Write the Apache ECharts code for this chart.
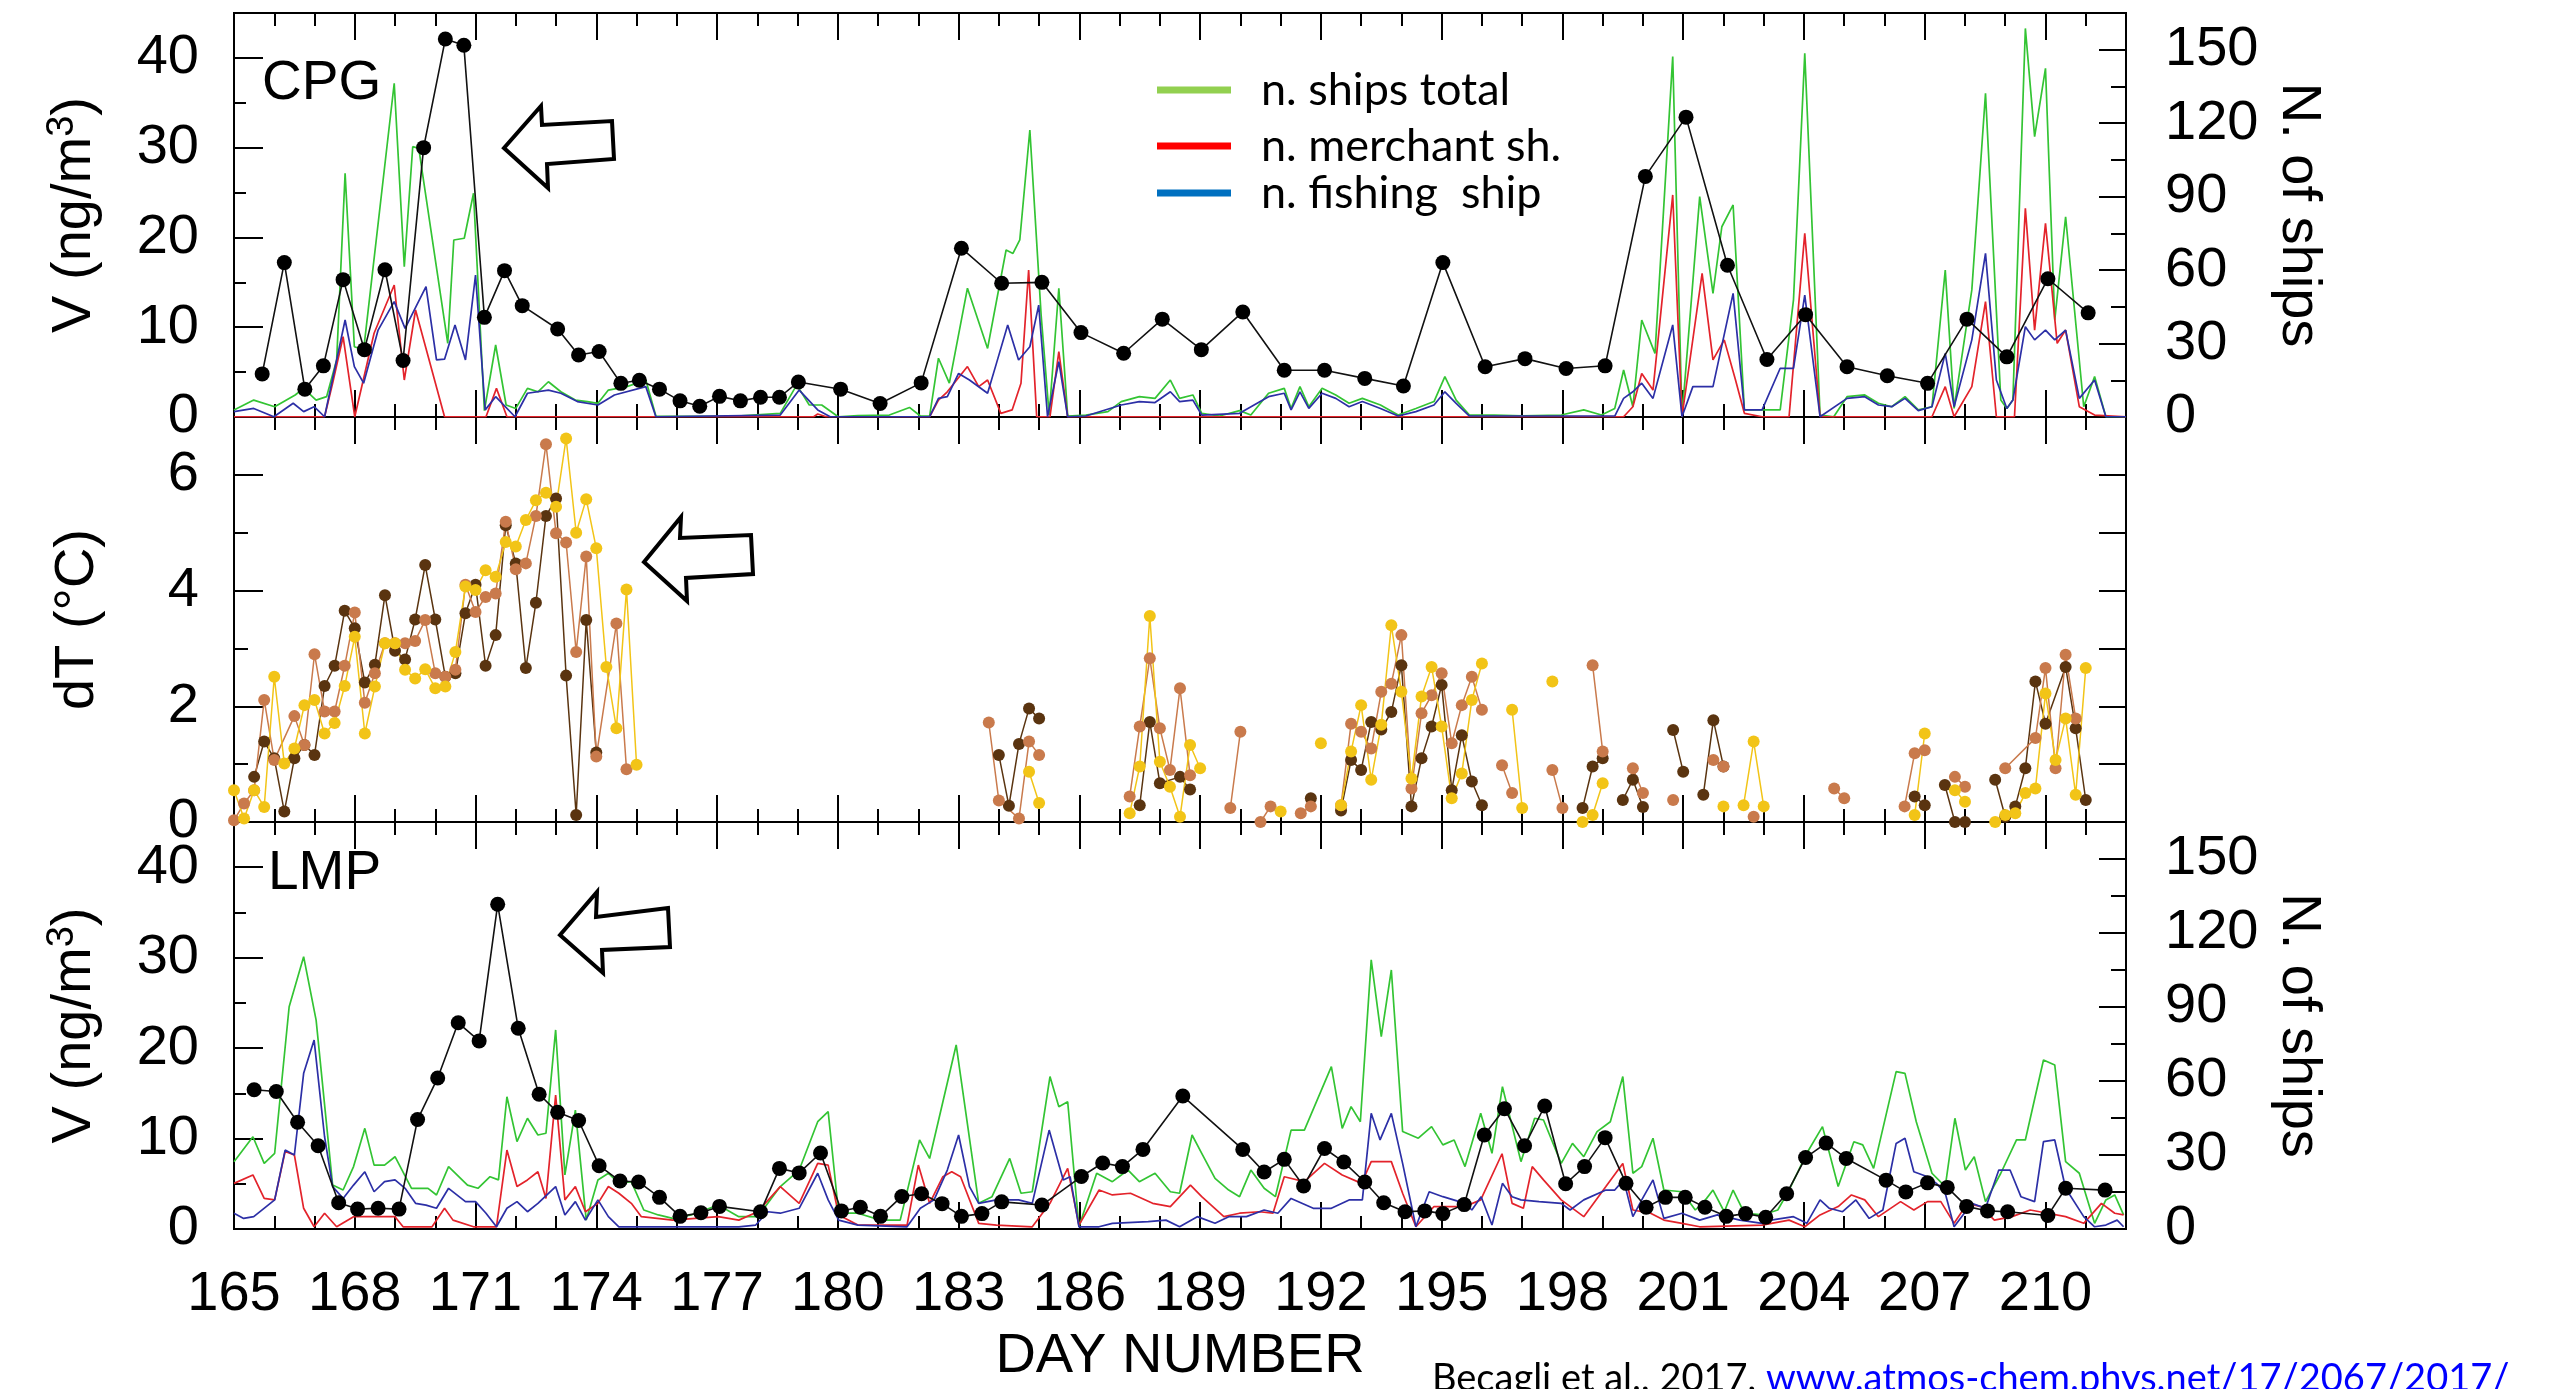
<!DOCTYPE html>
<html>
<head>
<meta charset="utf-8">
<style>
  html, body { margin: 0; padding: 0; background: #fff; }
  #chart { width: 2552px; height: 1389px; }
</style>
<script src="https://cdn.jsdelivr.net/npm/echarts@6/dist/echarts.min.js"></script>
</head>
<body>
<div id="chart"></div>
<script>
// ---- data: [day, value] ----
var vCPG = [[165.7,4.8],[166.25,17.2],[166.76,3.1],[167.22,5.7],[167.71,15.3],[168.24,7.5],[168.75,16.4],[169.2,6.3],[169.71,30.0],[170.25,42.1],[170.71,41.4],[171.22,11.1],[171.72,16.3],[172.16,12.4],[173.04,9.8],[173.56,6.9],[174.07,7.3],[174.61,3.75],[175.07,4.1],[175.57,3.1],[176.08,1.8],[176.57,1.2],[177.06,2.3],[177.58,1.8],[178.08,2.2],[178.55,2.2],[179.02,3.9],[180.07,3.1],[181.05,1.5],[182.07,3.8],[183.07,18.8],[184.07,14.9],[185.07,15.0],[186.04,9.4],[187.1,7.1],[188.06,10.9],[189.03,7.5],[190.06,11.7],[191.09,5.2],[192.09,5.2],[193.09,4.3],[194.05,3.45],[195.03,17.2],[196.08,5.6],[197.07,6.5],[198.09,5.4],[199.06,5.7],[200.06,26.8],[201.07,33.4],[202.1,16.9],[203.08,6.4],[204.04,11.4],[205.07,5.6],[206.07,4.6],[207.07,3.75],[208.05,10.9],[209.04,6.7],[210.06,15.4],[211.06,11.6]];

var shipsTotalCPG = [[165.0,2.9],[165.49,6.9],[166.01,4.2],[166.52,9.0],[166.73,11.7],[167.04,6.9],[167.3,8.3],[167.55,23.3],[167.76,99.5],[167.99,28.7],[168.22,27.4],[168.98,136.3],[169.23,61.4],[169.44,110.4],[169.59,109.7],[170.31,30.1],[170.46,72.3],[170.72,73.0],[170.95,91.4],[171.22,2.6],[171.5,29.4],[171.76,4.9],[172.0,3.5],[172.29,11.7],[172.55,10.3],[172.81,14.4],[173.12,10.3],[173.48,6.9],[173.78,6.3],[174.04,5.6],[174.3,11.0],[174.76,12.4],[175.23,15.1],[175.48,0.4],[176.5,0.3],[177.5,0.4],[178.57,1.5],[178.98,13.1],[179.29,4.9],[179.6,4.9],[180.01,0.1],[180.5,0.6],[181.28,0.8],[181.78,3.9],[182.05,0.4],[182.28,0.4],[182.5,24.0],[182.77,13.8],[183.22,52.6],[183.72,28.0],[184.18,68.2],[184.35,66.8],[184.52,72.3],[184.77,117.2],[185.05,41.7],[185.25,0.8],[185.49,52.6],[185.71,0.4],[186.16,0.8],[186.71,2.2],[187.04,6.3],[187.49,8.3],[187.88,7.6],[188.26,15.1],[188.49,7.6],[188.82,9.0],[189.04,1.5],[189.48,0.4],[189.98,2.6],[190.26,0.8],[190.7,9.7],[191.09,11.7],[191.26,3.5],[191.48,12.4],[191.7,4.2],[192.03,11.7],[192.37,9.0],[192.7,5.6],[193.03,7.6],[193.48,4.9],[193.92,0.8],[194.36,3.5],[194.81,6.3],[195.08,16.5],[195.36,6.9],[195.69,0.8],[196.31,0.8],[197.0,0.5],[197.97,0.8],[198.53,2.9],[198.97,0.8],[199.3,3.5],[199.52,19.2],[199.75,4.2],[199.97,39.6],[200.3,26.0],[200.74,147.2],[200.97,0.1],[201.41,90.0],[201.74,50.5],[201.96,77.7],[202.24,86.6],[202.52,2.9],[202.85,2.9],[203.41,2.9],[203.74,47.8],[204.02,148.5],[204.4,0.8],[204.74,0.1],[205.07,8.3],[205.51,9.0],[205.85,5.6],[206.18,4.2],[206.51,8.3],[206.84,2.9],[207.18,4.2],[207.51,60.0],[207.73,3.5],[208.17,51.9],[208.51,132.2],[208.89,6.9],[209.04,3.5],[209.19,6.9],[209.5,158.7],[209.73,114.5],[210.0,142.4],[210.23,39.6],[210.5,81.8],[210.95,4.2],[211.22,16.5],[211.5,0.1],[212.0,0.1]];

var shipsMerchCPG = [[165.0,0.1],[167.25,0.1],[167.45,13.8],[167.71,32.8],[168.0,0.1],[168.48,34.2],[168.98,53.9],[169.23,15.1],[169.51,43.7],[170.23,0.1],[171.26,0.1],[171.52,11.7],[171.78,0.1],[179.4,0.1],[179.5,1.2],[179.71,0.1],[182.28,0.1],[182.5,6.9],[182.72,10.3],[183.22,20.6],[183.5,12.4],[183.72,15.1],[184.05,1.5],[184.33,2.9],[184.55,13.8],[184.74,60.0],[184.94,0.1],[185.27,0.1],[185.49,26.7],[185.71,0.1],[199.52,0.1],[199.75,4.2],[199.97,17.8],[200.25,11.0],[200.74,90.7],[200.97,0.1],[201.47,58.7],[201.74,23.3],[202.02,31.5],[202.3,15.1],[202.52,1.5],[202.96,0.1],[203.63,0.1],[204.02,75.0],[204.4,0.1],[207.18,0.1],[207.51,12.4],[207.73,0.1],[208.17,12.4],[208.51,47.1],[208.78,0.1],[209.23,0.1],[209.5,85.2],[209.73,35.5],[210.0,79.1],[210.29,30.1],[210.5,35.5],[210.84,4.2],[211.22,0.8],[212.0,0.1]];

var shipsFishCPG = [[165.0,2.2],[165.49,3.5],[165.99,0.1],[166.47,5.6],[166.73,2.2],[166.99,4.2],[167.25,0.1],[167.76,39.6],[167.99,20.6],[168.22,13.8],[168.58,35.5],[168.98,47.1],[169.25,36.2],[169.77,53.2],[170.03,23.3],[170.23,23.6],[170.49,37.6],[170.75,23.3],[171.0,58.0],[171.24,2.9],[171.5,8.3],[171.98,0.1],[172.29,9.7],[172.81,11.0],[173.12,9.7],[173.53,6.3],[174.04,4.9],[174.45,9.0],[175.23,12.4],[175.48,0.1],[178.57,0.8],[179.04,11.0],[179.5,2.9],[179.81,0.1],[182.28,0.1],[182.5,7.6],[182.72,8.3],[183.0,17.8],[183.27,15.1],[183.72,9.7],[183.94,21.9],[184.22,37.6],[184.49,23.3],[184.77,28.7],[184.99,45.7],[185.21,0.1],[185.49,22.6],[185.71,0.1],[186.16,0.4],[187.04,4.9],[187.49,6.3],[187.88,5.9],[188.26,10.3],[188.49,6.3],[188.82,6.9],[189.04,0.8],[189.98,1.5],[190.7,8.3],[191.09,9.7],[191.26,2.9],[191.48,10.3],[191.7,3.5],[192.03,9.7],[192.37,7.6],[192.7,4.2],[193.03,6.3],[193.48,3.5],[193.92,0.4],[194.36,2.2],[194.81,4.9],[195.08,10.3],[195.36,5.6],[195.69,0.4],[199.3,0.4],[199.52,7.6],[199.75,10.3],[199.97,13.8],[200.25,7.6],[200.74,37.6],[200.97,0.1],[201.24,12.4],[201.74,12.4],[202.24,50.5],[202.52,2.9],[202.96,2.9],[203.41,19.9],[203.74,19.9],[204.02,49.8],[204.4,0.1],[205.07,7.6],[205.51,8.3],[205.85,4.9],[206.18,4.2],[206.51,7.6],[206.84,2.6],[207.18,4.2],[207.51,26.0],[207.73,4.2],[208.17,31.5],[208.51,66.8],[208.78,15.1],[209.04,3.5],[209.19,6.9],[209.5,36.9],[209.73,31.5],[210.0,35.5],[210.23,31.5],[210.5,35.5],[210.84,7.6],[211.22,15.1],[211.5,0.1],[212.0,0.1]];

// dT: runs of consecutive samples, gaps between runs
var dtDark = [
  [[165.5,0.78],[165.75,1.39],[166.0,1.10],[166.25,0.18],[166.5,1.10],[166.75,1.33],[167.0,1.16],[167.25,2.35],[167.5,2.70],[167.75,3.65],[168.0,3.35],[168.25,2.41],[168.5,2.72],[168.75,3.92],[169.0,2.96],[169.25,2.81],[169.5,3.50],[169.75,4.44],[170.0,3.50],[170.25,2.51],[170.5,2.57],[170.75,3.61],[171.0,4.10],[171.25,2.70],[171.5,3.23],[171.75,5.13],[172.0,4.47],[172.25,2.66],[172.5,3.79],[172.75,5.29],[173.0,5.59],[173.25,2.53],[173.5,0.12],[173.75,3.49],[174.0,1.20]],
  [[184.0,1.16],[184.25,0.28],[184.5,1.35],[184.75,1.96],[185.0,1.79]],
  [[187.5,0.29],[187.75,1.73],[188.0,0.67],[188.5,0.78],[188.75,0.56]],
  [[191.75,0.41]],
  [[192.5,0.2],[192.75,1.07],[193.0,0.9],[193.25,1.73],[193.5,1.6],[193.75,1.9],[194.0,2.71],[194.25,0.27],[194.5,1.1],[194.75,1.65],[195.0,2.37],[195.25,0.55],[195.5,1.5],[195.75,0.7],[196.0,0.29]],
  [[198.5,0.24],[198.75,0.96],[199.0,1.1]],
  [[199.5,0.38],[199.75,0.73],[200.0,0.26]],
  [[200.75,1.59],[201.0,0.87]],
  [[201.5,0.47],[201.75,1.76],[202.0,0.96]],
  [[206.75,0.44],[207.0,0.29]],
  [[207.5,0.64],[207.75,0.0],[208.0,0.0]],
  [[208.75,0.73],[209.0,0.09],[209.25,0.27],[209.5,0.93],[209.75,2.43],[210.0,1.7],[210.5,2.68],[210.75,1.62],[211.0,0.38]]
];
var dtOrange = [
  [[165.0,0.03],[165.25,0.32],[165.5,0.55],[165.75,2.11],[166.0,1.07],[166.5,1.83],[166.75,1.33],[167.0,2.90],[167.25,1.91],[167.5,1.91],[167.75,2.70],[168.0,3.62],[168.25,2.06],[168.5,2.57],[168.75,3.09],[169.0,3.09],[169.25,3.09],[169.5,3.13],[169.75,3.49],[170.0,2.57],[170.25,2.51],[170.5,2.63],[170.75,4.10],[171.0,3.63],[171.25,3.89],[171.5,3.95],[171.75,5.19],[172.0,4.37],[172.25,4.47],[172.5,5.29],[172.75,6.53],[173.0,4.99],[173.25,4.83],[173.5,2.94],[173.75,4.59],[174.0,1.13],[174.5,3.43],[174.75,0.91]],
  [[183.75,1.72],[184.0,0.37],[184.5,0.06],[184.75,1.39],[185.0,1.16]],
  [[187.25,0.44],[187.5,1.65],[187.75,2.83],[188.0,1.62],[188.25,0.9],[188.5,2.31],[188.75,0.81]],
  [[189.75,0.24],[190.0,1.56]],
  [[190.5,0.0],[190.75,0.27]],
  [[191.5,0.15],[191.75,0.27]],
  [[192.5,0.29],[192.75,1.7],[193.0,1.56],[193.25,1.27],[193.5,2.25],[193.75,2.39],[194.0,3.23],[194.25,0.58],[194.5,1.88],[194.75,2.19],[195.0,2.57],[195.25,1.36],[195.5,2.02],[195.75,2.51],[196.0,1.94]],
  [[196.5,0.98],[196.75,0.5]],
  [[197.75,0.9],[198.0,0.24]],
  [[198.75,2.71],[199.0,1.22]],
  [[199.75,0.93],[200.0,0.5]],
  [[200.75,0.38]],
  [[201.75,1.07],[202.0,0.96]],
  [[202.75,0.09]],
  [[204.75,0.58],[205.0,0.41]],
  [[206.5,0.27],[206.75,1.19],[207.0,1.24]],
  [[207.75,0.78],[208.0,0.61]],
  [[209.0,0.93],[209.75,1.45],[210.0,2.66],[210.25,0.93],[210.5,2.89],[210.75,1.79]]
];
var dtYellow = [
  [[165.0,0.55],[165.25,0.06],[165.5,0.55],[165.75,0.26],[166.0,2.51],[166.25,1.01],[166.5,1.27],[166.75,2.02],[167.0,2.11],[167.25,1.53],[167.5,1.71],[167.75,2.35],[168.0,3.20],[168.25,1.53],[168.5,2.34],[168.75,3.09],[169.0,3.09],[169.25,2.63],[169.5,2.48],[169.75,2.64],[170.0,2.31],[170.25,2.34],[170.5,2.94],[170.75,4.07],[171.0,4.01],[171.25,4.35],[171.5,4.24],[171.75,4.84],[172.0,4.76],[172.25,5.22],[172.5,5.56],[172.75,5.69],[173.0,5.45],[173.25,6.63],[173.5,5.0],[173.75,5.58],[174.0,4.73],[174.25,2.68],[174.5,1.62],[174.75,4.02],[175.0,0.99]],
  [[184.75,0.87],[185.0,0.33]],
  [[187.25,0.15],[187.5,0.96],[187.75,3.56],[188.0,1.04],[188.25,0.61],[188.5,0.09],[188.75,1.33],[189.0,0.93]],
  [[191.0,0.18]],
  [[192.0,1.36]],
  [[192.5,0.29],[192.75,1.22],[193.0,2.02],[193.25,0.73],[193.5,1.68],[193.75,3.4],[194.0,2.25],[194.25,0.75],[194.5,2.17],[194.75,2.68],[195.0,1.65],[195.25,0.41],[195.5,0.84],[195.75,2.11],[196.0,2.74]],
  [[196.75,1.94],[197.0,0.24]],
  [[197.75,2.43]],
  [[198.5,0.0],[198.75,0.12],[199.0,0.67]],
  [[202.0,0.27]],
  [[202.5,0.29],[202.75,1.39],[203.0,0.27]],
  [[206.75,0.12],[207.0,1.53]],
  [[207.75,0.55],[208.0,0.35]],
  [[208.75,0.0],[209.0,0.12],[209.25,0.15],[209.5,0.5],[209.75,0.58],[210.0,2.22],[210.25,1.07],[210.5,1.79],[210.75,0.47],[211.0,2.66]]
];

var vLMP = [[165.5,15.4],[166.05,15.2],[166.58,11.8],[167.09,9.2],[167.6,2.9],[168.07,2.2],[168.58,2.3],[169.1,2.2],[169.56,12.1],[170.06,16.7],[170.57,22.8],[171.09,20.8],[171.55,35.9],[172.06,22.2],[172.58,14.9],[173.04,12.9],[173.56,12.0],[174.07,7.0],[174.59,5.3],[175.05,5.2],[175.57,3.5],[176.08,1.4],[176.6,1.8],[177.06,2.5],[178.08,1.9],[178.55,6.7],[179.04,6.2],[179.57,8.4],[180.09,2.0],[180.56,2.4],[181.06,1.4],[181.59,3.6],[182.08,3.9],[182.59,2.8],[183.07,1.4],[183.58,1.7],[184.07,3.0],[185.07,2.65],[186.05,5.8],[186.58,7.3],[187.07,6.9],[187.58,8.8],[188.57,14.7],[190.06,8.8],[190.59,6.3],[191.09,7.7],[191.57,4.75],[192.09,8.9],[192.57,7.4],[193.09,5.2],[193.56,2.9],[194.09,1.9],[194.58,2.0],[195.03,1.7],[195.56,2.7],[196.06,10.4],[196.56,13.3],[197.06,9.2],[197.56,13.6],[198.08,5.0],[198.55,6.9],[199.06,10.1],[199.58,5.05],[200.08,2.4],[200.56,3.5],[201.05,3.5],[201.54,2.4],[202.07,1.4],[202.55,1.7],[203.05,1.3],[203.57,3.9],[204.04,7.9],[204.55,9.5],[205.05,7.8],[206.04,5.4],[206.53,4.1],[207.07,5.1],[207.56,4.6],[208.04,2.5],[208.56,2.0],[209.06,1.9],[210.06,1.5],[210.5,4.5],[211.48,4.3]];

var shipsTotalLMP = [[165.0,27.3],[165.47,37.4],[165.75,26.6],[166.01,30.7],[166.37,90.1],[166.73,110.4],[167.04,84.7],[167.45,17.8],[167.71,15.8],[167.97,25.3],[168.25,40.8],[168.48,25.9],[168.74,25.9],[169.0,29.3],[169.41,16.5],[169.82,16.5],[170.03,13.8],[170.33,25.3],[170.8,17.8],[171.06,16.5],[171.36,21.2],[171.57,19.9],[171.78,53.6],[172.03,35.4],[172.29,44.9],[172.55,38.1],[172.75,38.8],[172.99,80.7],[173.22,21.9],[173.48,48.2],[173.75,3.6],[174.04,19.9],[174.3,22.6],[174.56,18.5],[174.87,19.2],[175.18,7.7],[175.54,5.7],[175.9,4.3],[176.36,5.7],[177.03,9.7],[177.54,5.0],[178.01,5.0],[178.57,17.2],[179.04,23.9],[179.5,43.5],[179.76,47.6],[180.02,6.4],[180.5,6.4],[181.06,3.6],[181.55,3.6],[182.03,36.1],[182.28,28.6],[182.94,74.6],[183.5,10.4],[183.83,13.1],[184.27,28.6],[184.55,14.5],[184.83,15.1],[185.27,61.8],[185.49,49.6],[185.71,51.6],[185.99,0.9],[186.43,22.6],[186.82,19.2],[187.21,23.9],[187.49,19.2],[187.88,22.6],[188.26,15.1],[188.49,14.5],[188.8,38.1],[189.04,30.7],[189.37,20.5],[189.71,15.8],[189.98,13.1],[190.26,23.9],[190.59,16.5],[190.87,13.1],[191.26,40.1],[191.59,40.1],[192.26,65.8],[192.53,40.8],[192.75,49.6],[192.98,43.5],[193.25,109.1],[193.5,78.0],[193.75,105.0],[194.03,39.5],[194.42,36.8],[194.75,41.5],[195.03,34.1],[195.31,36.1],[195.58,25.3],[195.97,46.9],[196.25,30.7],[196.51,57.7],[196.97,27.3],[197.31,44.9],[197.53,44.2],[197.97,26.6],[198.25,34.7],[198.53,29.3],[198.86,39.5],[199.19,43.5],[199.5,61.8],[199.75,22.6],[199.97,25.3],[200.25,36.8],[200.52,15.8],[200.97,15.1],[201.3,7.7],[201.52,11.1],[201.74,15.8],[202.02,7.0],[202.24,15.8],[202.52,6.4],[202.96,5.7],[203.35,7.7],[203.63,15.8],[204.07,30.7],[204.46,41.5],[204.85,17.2],[205.24,35.4],[205.46,34.1],[205.73,24.6],[206.29,63.8],[206.51,63.1],[206.79,43.5],[207.18,22.6],[207.51,17.2],[207.75,44.9],[208.01,23.9],[208.23,29.3],[208.51,11.1],[208.89,22.6],[209.28,36.1],[209.5,36.1],[209.95,68.5],[210.23,66.5],[210.5,27.3],[210.84,22.6],[211.22,2.3],[211.5,11.8],[211.72,13.8],[211.94,5.7]];

var shipsMerchLMP = [[165.0,18.5],[165.47,21.9],[165.75,12.4],[166.01,11.8],[166.27,31.4],[166.5,30.0],[166.73,8.4],[166.99,0.9],[167.25,6.4],[167.55,0.9],[167.97,5.0],[169.0,5.0],[169.2,0.9],[169.92,0.9],[170.23,8.4],[170.44,3.6],[170.95,0.9],[171.52,0.9],[171.78,32.0],[172.03,17.2],[172.29,19.9],[172.55,23.2],[172.75,12.4],[172.99,54.3],[173.22,11.8],[173.48,17.2],[173.73,7.0],[174.04,10.4],[174.3,17.2],[174.56,14.5],[174.87,10.4],[175.12,5.0],[175.9,3.6],[177.03,5.0],[177.54,3.6],[178.01,7.0],[178.57,17.2],[179.04,10.4],[179.5,26.6],[179.76,25.9],[180.02,5.7],[180.5,1.6],[181.72,1.6],[182.0,25.9],[182.28,10.4],[182.61,21.2],[182.83,23.2],[183.05,21.2],[183.5,2.3],[183.94,1.6],[184.83,0.9],[185.27,10.4],[185.71,24.6],[185.99,1.6],[186.49,15.8],[186.82,13.8],[187.27,14.5],[187.82,10.4],[188.26,9.1],[188.76,17.8],[189.04,13.1],[189.59,5.0],[189.98,6.4],[190.48,7.0],[190.81,6.4],[191.09,21.2],[191.59,19.2],[192.09,26.6],[192.53,21.9],[193.01,18.5],[193.25,27.3],[193.75,27.3],[194.03,14.5],[194.36,0.9],[194.81,9.1],[195.58,9.1],[195.97,11.8],[196.5,30.5],[196.75,10.4],[197.03,8.4],[197.25,25.3],[197.53,19.9],[197.97,11.8],[198.53,5.0],[199.08,17.2],[199.5,26.6],[199.75,7.7],[200.19,6.4],[200.52,3.6],[200.97,2.3],[201.41,0.9],[202.96,1.6],[203.63,3.6],[204.02,0.9],[204.4,5.7],[204.85,9.1],[205.18,13.8],[205.51,11.8],[205.85,5.0],[206.4,11.1],[206.73,7.7],[207.07,11.1],[207.4,11.1],[207.73,2.3],[208.06,10.4],[208.4,9.1],[208.73,3.6],[209.17,5.0],[209.62,7.7],[210.06,6.4],[210.5,5.0],[210.95,2.3],[211.39,10.4],[211.72,6.4],[211.94,5.7]];

var shipsFishLMP = [[165.0,6.4],[165.24,4.3],[165.49,5.0],[166.01,11.8],[166.27,32.0],[166.5,30.0],[166.73,63.1],[166.99,76.6],[167.25,37.4],[167.45,17.2],[167.71,12.4],[167.97,17.8],[168.25,23.2],[168.48,15.1],[168.74,19.2],[169.0,19.9],[169.25,16.5],[169.51,10.4],[169.77,9.7],[170.03,8.4],[170.33,16.5],[170.75,11.1],[171.0,11.1],[171.26,6.4],[171.52,0.9],[171.78,8.4],[172.03,11.1],[172.29,7.0],[172.55,10.4],[172.99,17.2],[173.22,5.7],[173.48,11.1],[173.73,3.6],[174.04,11.8],[174.3,5.0],[174.56,0.9],[177.54,0.9],[177.96,1.6],[178.26,7.0],[178.57,6.4],[179.04,8.4],[179.5,22.6],[179.76,11.8],[180.02,3.6],[180.5,1.6],[181.72,0.9],[182.05,8.4],[182.39,11.8],[182.72,23.9],[183.0,38.1],[183.27,17.2],[183.5,10.4],[183.94,11.8],[184.49,11.8],[184.83,10.4],[185.25,40.1],[185.6,19.9],[185.77,21.2],[185.99,0.9],[186.49,0.9],[186.82,2.3],[187.71,3.0],[188.15,3.6],[188.49,0.9],[188.93,5.0],[189.37,2.3],[189.71,5.0],[190.15,5.0],[190.59,7.7],[190.93,6.4],[191.26,12.4],[191.81,8.4],[192.26,8.4],[192.7,11.8],[193.03,11.8],[193.25,46.9],[193.47,36.1],[193.75,46.9],[194.03,26.6],[194.36,0.9],[194.69,15.1],[195.03,13.1],[195.58,10.4],[195.75,7.7],[195.98,13.1],[196.25,1.6],[196.51,18.5],[196.75,13.1],[196.97,11.8],[197.42,11.1],[197.97,10.4],[198.19,7.7],[198.53,11.8],[199.08,15.8],[199.3,15.8],[199.52,19.9],[199.75,5.0],[199.97,11.8],[200.25,19.9],[200.52,4.3],[200.97,6.4],[201.41,3.6],[201.85,5.7],[202.41,3.6],[202.96,2.3],[203.18,3.6],[203.74,5.0],[204.07,2.3],[204.4,11.8],[204.63,8.4],[204.96,7.0],[205.29,11.8],[205.62,4.3],[205.96,7.7],[206.29,34.7],[206.51,36.8],[206.73,23.2],[207.07,21.2],[207.29,18.5],[207.51,14.5],[207.73,0.9],[208.17,10.4],[208.51,8.4],[208.84,23.9],[209.12,23.9],[209.39,13.1],[209.73,11.1],[209.95,35.4],[210.23,36.1],[210.5,16.5],[210.95,5.0],[211.22,0.9],[211.5,1.6],[211.78,3.6],[211.94,0.9]];

var dayRange = [165, 212];
var vTicks = [0, 10, 20, 30, 40];
var shipTicks = [0, 30, 60, 90, 120, 150];
var dtTicks = [0, 2, 4, 6];

// ---- helpers ----
var FONT = 'Liberation Sans';
var BLACK = '#000';

function runs(list) {
  var out = [];
  list.forEach(function (r, i) {
    if (i > 0) out.push(['-', '-']);
    r.forEach(function (p) { out.push(p); });
  });
  return out;
}

function xAx(grid, pos, major, labels) {
  return {
    type: 'value', gridIndex: grid, position: pos,
    min: dayRange[0], max: dayRange[1], interval: major ? 3 : 1,
    axisLine: { show: true, onZero: false, lineStyle: { color: BLACK, width: 2 } },
    axisTick: { show: true, inside: true, length: major ? 27 : 13, lineStyle: { color: BLACK, width: 2 } },
    axisLabel: {
      show: !!labels, margin: 38, color: BLACK, fontSize: 56, fontFamily: FONT,
      formatter: function (v) { return (v - 165) % 3 === 0 ? String(v) : ''; }
    },
    splitLine: { show: false }
  };
}

function yAx(grid, pos, min, max, interval, tickLen, shown) {
  return {
    type: 'value', gridIndex: grid, position: pos,
    min: min, max: max, interval: interval,
    axisLine: { show: true, onZero: false, lineStyle: { color: BLACK, width: 2 } },
    axisTick: { show: true, inside: true, length: tickLen, lineStyle: { color: BLACK, width: 2 } },
    axisLabel: {
      show: !!shown, margin: pos === 'left' ? 35 : 39, color: BLACK, fontSize: 56, fontFamily: FONT,
      formatter: function (v) { return shown && shown.indexOf(v) >= 0 ? String(v) : ''; }
    },
    splitLine: { show: false }
  };
}

var vName = {
  name: '{a|V (ng/m}{s|3}{a|)}', nameLocation: 'middle', nameGap: 128, nameRotate: 90,
  nameTextStyle: { rich: {
    a: { fontSize: 56, fontFamily: FONT, color: BLACK },
    s: { fontSize: 38, fontFamily: FONT, color: BLACK, padding: [0, 0, 24, 0] }
  } }
};
var shipName = {
  name: 'N. of ships', nameLocation: 'middle', nameGap: 144, nameRotate: -90,
  nameTextStyle: { fontSize: 56, fontFamily: FONT, color: BLACK }
};

var xAxes = [];
[0, 1, 2].forEach(function (g) {
  xAxes.push(xAx(g, 'bottom', true, g === 2));
  xAxes.push(xAx(g, 'bottom', false));
  xAxes.push(xAx(g, 'top', true));
  xAxes.push(xAx(g, 'top', false));
});
xAxes[8].name = 'DAY NUMBER';
xAxes[8].nameLocation = 'middle';
xAxes[8].nameGap = 100;
xAxes[8].nameTextStyle = { fontSize: 56, fontFamily: FONT, color: BLACK };

var yAxes = [
  Object.assign(yAx(0, 'left', 0, 45, 10, 29, vTicks), vName),      // 0
  yAx(0, 'left', 0, 45, 5, 12),                                     // 1
  Object.assign(yAx(0, 'right', 0, 165, 30, 27, shipTicks), shipName), // 2
  yAx(0, 'right', 0, 165, 15, 15),                                  // 3
  Object.assign(yAx(1, 'left', 0, 7, 2, 29, dtTicks), {             // 4
    name: 'dT (°C)', nameLocation: 'middle', nameGap: 128, nameRotate: 90,
    nameTextStyle: { fontSize: 56, fontFamily: FONT, color: BLACK }
  }),
  yAx(1, 'left', 0, 7, 1, 14),                                      // 5
  yAx(1, 'right', 0, 7, 1, 27),                                     // 6
  Object.assign(yAx(2, 'left', 0, 45, 10, 29, vTicks), vName),      // 7
  yAx(2, 'left', 0, 45, 5, 12),                                     // 8
  Object.assign(yAx(2, 'right', 0, 165, 30, 27, shipTicks), shipName), // 9
  yAx(2, 'right', 0, 165, 15, 15)                                   // 10
];

var GREEN = '#33c433', RED = '#e3232b', BLUE = '#2c2fa6';

function shipLine(data, color, xi, yi) {
  return { type: 'line', data: data, xAxisIndex: xi, yAxisIndex: yi, symbol: 'none',
    lineStyle: { color: color, width: 1.7 }, itemStyle: { color: color }, z: 2, silent: true };
}
function vLine(data, xi, yi) {
  return { type: 'line', data: data, xAxisIndex: xi, yAxisIndex: yi,
    symbol: 'circle', symbolSize: 15, showAllSymbol: true,
    lineStyle: { color: '#111', width: 1.6 }, itemStyle: { color: '#000' }, z: 5 };
}
function dtLine(list, color) {
  return { type: 'line', data: runs(list), xAxisIndex: 4, yAxisIndex: 4,
    symbol: 'circle', symbolSize: 12, showAllSymbol: true, connectNulls: false,
    lineStyle: { color: color, width: 1.5 }, itemStyle: { color: color }, z: 3 };
}

function arrow(pts) {
  return { type: 'polygon', shape: { points: pts }, z: 100,
    style: { fill: '#fff', stroke: '#000', lineWidth: 4, lineJoin: 'miter' } };
}

var legendItems = [
  ['n. ships total', '#92d050', 90],
  ['n. merchant sh.', '#ff0000', 146],
  ['n. fishing  ship', '#0070c0', 193]
];
var graphics = [
  arrow([[504,148],[541,106],[542,125],[612,121],[614,159],[547,164],[548,188]]),
  arrow([[644,562],[681,517],[680,538],[751,535],[753,574],[686,578],[687,601]]),
  arrow([[560,935],[597,892],[596,917],[668,908],[670,947],[602,950],[603,973]]),
  { type: 'text', left: 262, top: 56, z: 100, style: { text: 'CPG', fontSize: 55, fontFamily: FONT, fill: BLACK } },
  { type: 'text', left: 268, top: 846, z: 100, style: { text: 'LMP', fontSize: 55, fontFamily: FONT, fill: BLACK } },
  { type: 'text', left: 1432, top: 1360, z: 100, style: {
    text: '{a|Becagli et al., 2017, }{b|www.atmos-chem.phys.net/17/2067/2017/}',
    rich: { a: { fontSize: 38, fontFamily: 'Lato', fill: BLACK }, b: { fontSize: 38, fontFamily: 'Lato', fill: '#0000ff' } }
  } }
];
legendItems.forEach(function (it) {
  graphics.push({ type: 'rect', z: 100, shape: { x: 1157, y: it[2] - 3.5, width: 74, height: 7 }, style: { fill: it[1] } });
  graphics.push({ type: 'text', z: 100, x: 1261, y: it[2], style: {
    text: it[0], fontSize: 45, fontFamily: 'Lato', fill: BLACK, textVerticalAlign: 'middle' } });
});

var option = {
  backgroundColor: '#fff',
  animation: false,
  grid: [
    { left: 234, top: 13, width: 1892, height: 404, show: true, borderColor: BLACK, borderWidth: 2, backgroundColor: 'transparent' },
    { left: 234, top: 417, width: 1892, height: 405, show: true, borderColor: BLACK, borderWidth: 2, backgroundColor: 'transparent' },
    { left: 234, top: 822, width: 1892, height: 407, show: true, borderColor: BLACK, borderWidth: 2, backgroundColor: 'transparent' }
  ],
  xAxis: xAxes,
  yAxis: yAxes,
  series: [
    shipLine(shipsTotalCPG, GREEN, 0, 2),
    shipLine(shipsMerchCPG, RED, 0, 2),
    shipLine(shipsFishCPG, BLUE, 0, 2),
    vLine(vCPG, 0, 0),
    dtLine(dtDark, '#5a3410'),
    dtLine(dtOrange, '#c97a4c'),
    dtLine(dtYellow, '#f2c417'),
    shipLine(shipsTotalLMP, GREEN, 8, 9),
    shipLine(shipsMerchLMP, RED, 8, 9),
    shipLine(shipsFishLMP, BLUE, 8, 9),
    vLine(vLMP, 8, 7)
  ],
  graphic: graphics
};

var chart = echarts.init(document.getElementById('chart'));
chart.setOption(option);
window.addEventListener('resize', function () { chart.resize(); });
</script>
</body>
</html>
